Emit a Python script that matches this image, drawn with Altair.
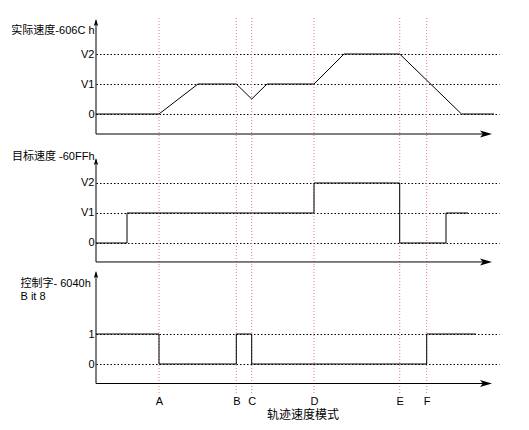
import altair as alt
import pandas as pd

# ---- data -------------------------------------------------------------------
event_names = ["A", "B", "C", "D", "E", "F"]
event_t = [63, 140.3, 155.7, 218, 303.7, 330.7]

# actual speed 606Ch (level 0 / V1=1 / V2=2)
actual_t = [0, 63, 102, 140.3, 155.7, 171, 218, 248, 303.7, 365.5, 398]
actual_v = [0, 0, 1, 1, 0.5, 1, 1, 2, 2, 0, 0]

# target speed 60FFh (step-after)
target_t = [0, 31, 218, 303.7, 350, 372]
target_v = [0, 1, 2, 0, 1, 1]

# control word 6040h bit 8 (step-after)
bit_t = [0, 63, 140.3, 155.7, 330.7, 380]
bit_v = [1, 0, 1, 0, 1, 1]

speed_levels = [0, 1, 2]
speed_labels = ["0", "V1", "V2"]
bit_levels = [0, 1]
bit_labels = ["0", "1"]

title1 = "实际速度-606C h"
title2 = "目标速度 -60FFh"
title3 = ["控制字- 6040h", "B it 8"]
x_title = "轨迹速度模式"

# ---- layout / style -----------------------------------------------------------
T_MAX = 403
ARROW_T = 396
FONT = "Liberation Sans, Noto Sans CJK SC, sans-serif"
RED = "#ea7b7b"

Y_ARROW = "M0,0 L-0.55,1.75 L0,1.35 L0.55,1.75 Z"
X_ARROW = "M0,0 L-3,-0.85 L-2.3,0 L-3,0.85 Z"


def make_panel(t, v, interp, levels, labels, title, title_props, dom, h,
               axis_lvl, top_lvl, x_axis):
    xs = alt.Scale(domain=[0, T_MAX], nice=False, zero=False)
    ys = alt.Scale(domain=dom, nice=False, zero=False)
    label_expr = "[" + ",".join(f"'{l}'" for l in labels) + "][datum.value]"
    yaxis = alt.Axis(values=levels, labelExpr=label_expr, domain=False,
                     ticks=False, tickSize=0, labelPadding=2, labelFlush=False,
                     labelOverlap=False, labelFontSize=11, grid=True,
                     gridColor="#000", gridDash=[1.5, 2], gridWidth=1,
                     gridOpacity=1, title=title, titleAngle=0,
                     titleFontWeight="normal", titleFontSize=11,
                     **title_props)
    X = lambda f: alt.X(f, scale=xs, axis=x_axis)
    Y = lambda f: alt.Y(f, scale=ys, axis=yaxis)

    ev_df = pd.DataFrame({"t": event_t, "name": event_names})
    red = alt.Chart(ev_df).mark_rule(color=RED, strokeDash=[1, 2],
                                     strokeWidth=1).encode(x=X("t:Q"))

    line_df = pd.DataFrame({"t": t, "v": v})
    line = alt.Chart(line_df).mark_line(interpolate=interp, color="#000",
                                        strokeWidth=1).encode(x=X("t:Q"), y=Y("v:Q"))

    yline = alt.Chart(pd.DataFrame({"t": [0], "v": [axis_lvl], "v2": [top_lvl - 0.05]})
                      ).mark_rule(color="#000", strokeWidth=1).encode(
        x=X("t:Q"), y=Y("v:Q"), y2="v2:Q")
    xline = alt.Chart(pd.DataFrame({"t": [0], "t2": [ARROW_T - 4], "v": [axis_lvl]})
                      ).mark_rule(color="#000", strokeWidth=1).encode(
        x=X("t:Q"), x2="t2:Q", y=Y("v:Q"))
    yarrow = alt.Chart(pd.DataFrame({"t": [0], "v": [top_lvl]})).mark_point(
        shape=Y_ARROW, size=64, filled=True, color="#000", opacity=1,
        strokeWidth=0).encode(x=X("t:Q"), y=Y("v:Q"))
    xarrow = alt.Chart(pd.DataFrame({"t": [ARROW_T], "v": [axis_lvl]})).mark_point(
        shape=X_ARROW, size=64, filled=True, color="#000", opacity=1,
        strokeWidth=0).encode(x=X("t:Q"), y=Y("v:Q"))

    return alt.layer(red, line, yline, xline, yarrow, xarrow).properties(
        width=T_MAX, height=h)


ev_expr = ("[" + ",".join(f"'{n}'" for n in event_names) + "][indexof(["
           + ",".join(str(x) for x in event_t) + "], datum.value)]")
x_axis3 = alt.Axis(values=event_t, labelExpr=ev_expr, domain=False, ticks=False,
                   tickSize=0, grid=False, labelPadding=1, labelFlush=False,
                   labelOverlap=False, labelFontSize=11, title=x_title,
                   titleFontSize=12, titleFontWeight="normal", titlePadding=3,
                   titleX=206.5)

p1 = make_panel(actual_t, actual_v, "linear", speed_levels, speed_labels, title1,
                dict(titleAlign="right", titleBaseline="middle", titleX=-2, titleY=12),
                [-0.9, 3.2], 123, -0.667, 3.167, None)
p2 = make_panel(target_t, target_v, "step-after", speed_levels, speed_labels, title2,
                dict(titleAlign="right", titleBaseline="middle", titleX=-2, titleY=15),
                [-0.767, 3.4], 125, -0.633, 2.833, None)
p3 = make_panel(bit_t, bit_v, "step-after", bit_levels, bit_labels, title3,
                dict(titleAlign="left", titleBaseline="top", titleX=-76, titleY=11,
                     titleLineHeight=13),
                [-1.0, 3.267], 128, -0.65, 3.1, x_axis3)

chart = alt.vconcat(p1, p2, p3, spacing=0, bounds="flush").properties(
    padding={"left": 2, "top": 9, "right": 5, "bottom": 5},
    background="white",
).configure_view(stroke=None).configure_axis(
    labelFont=FONT, titleFont=FONT, labelColor="#000", titleColor="#000")

chart.save("out.html", embed_options={"renderer": "svg", "actions": False})
